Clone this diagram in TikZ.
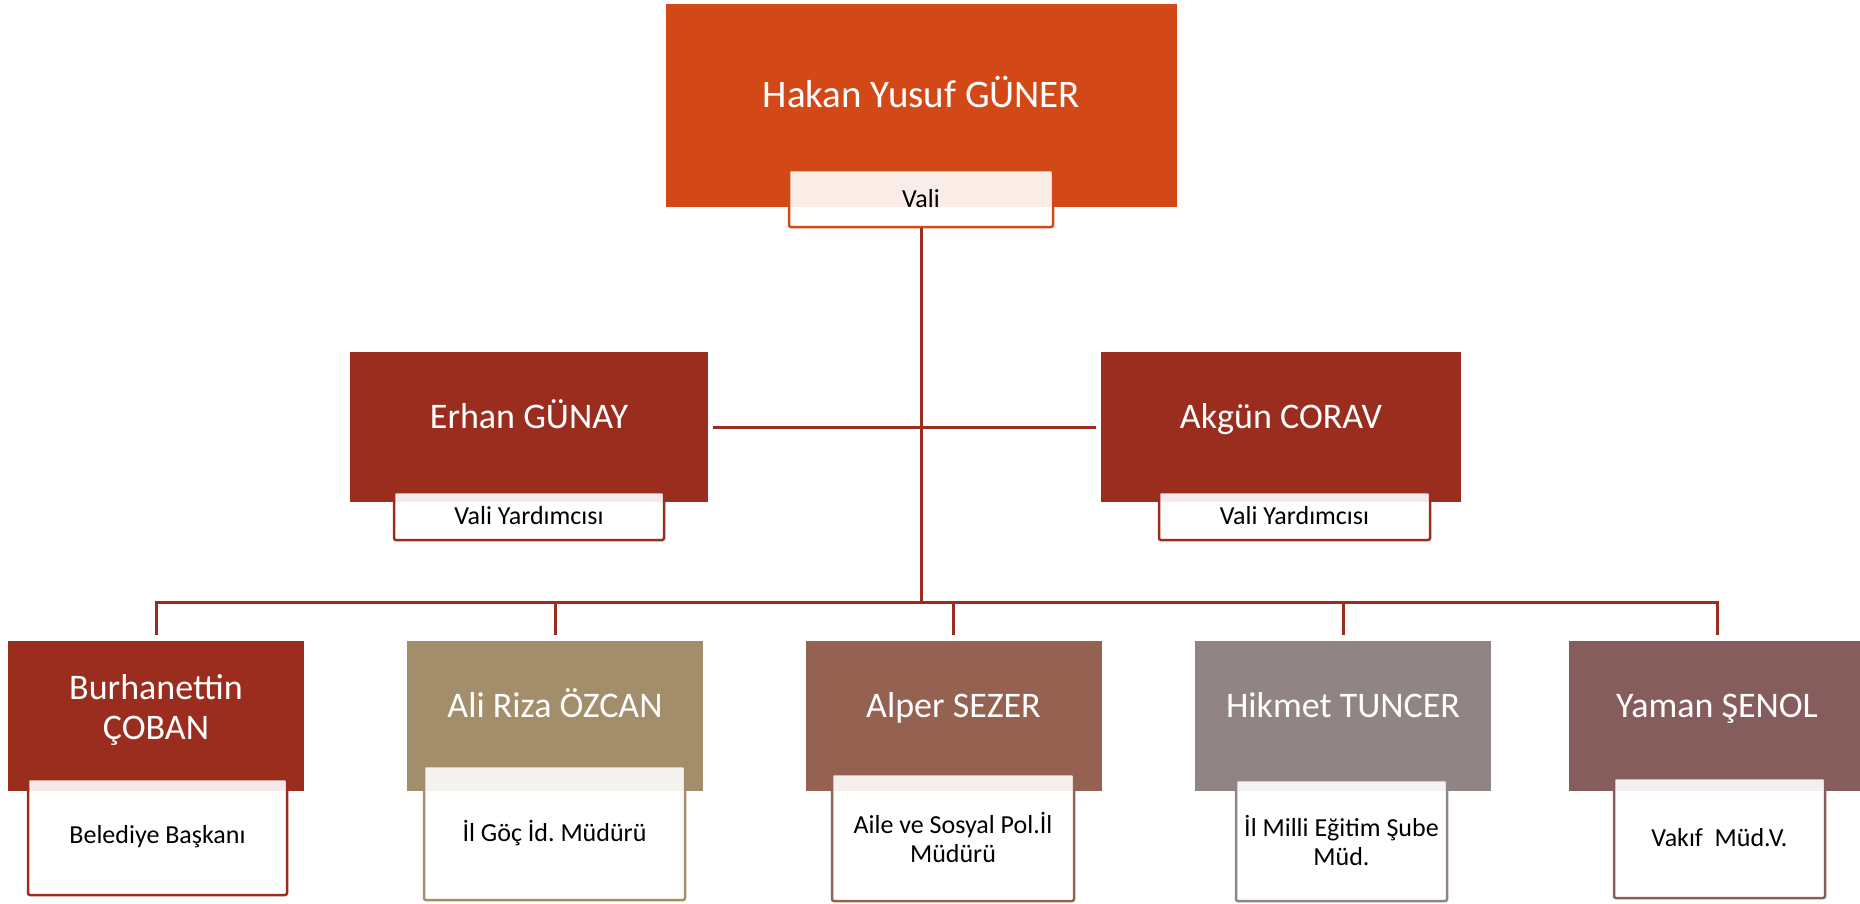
\documentclass[tikz,border=0pt]{standalone}
\usepackage{fontspec}
\setmainfont{Carlito}
\usepackage{tikz}
\usetikzlibrary{positioning}
\definecolor{topred}{HTML}{D34817}
\definecolor{darkred}{HTML}{9B2D1F}
\definecolor{khaki}{HTML}{A28E6A}
\definecolor{rust}{HTML}{956251}
\definecolor{mauve}{HTML}{918485}
\definecolor{plum}{HTML}{855D5D}
\newcommand{\NameSize}{\fontsize{36}{40}\selectfont}
\newcommand{\TitleSize}{\fontsize{26}{29}\selectfont}
\frenchspacing

\begin{document}
\begin{tikzpicture}[
	x=1pt,
	y=-1pt,
	person/.style={
		rectangle,
		fill=#1,
		text=white,
		minimum width=296pt,
		minimum height=150pt,
		inner sep=0pt,
		font=\NameSize,
		text height=25pt,
		text depth=22pt
	},
	titlebox/.style={
		rectangle,
		draw=#1,
		line width=2.5pt,
		rounded corners=2pt,
		fill=white,
		fill opacity=0.9,
		text opacity=1,
		text=black,
		align=center,
		inner sep=0pt,
		font=\TitleSize
	},
	orglink/.style={draw=darkred, line width=3pt}
	]
	\useasboundingbox (0,0) rectangle (1860,903);
	% Governor
	\node[person=topred, minimum width=511pt, minimum height=203pt, font=\fontsize{39}{44}\selectfont] (guner) at (921.5,105.5) {Hakan Yusuf GÜNER};
	\node[titlebox=topred, minimum width=264pt, minimum height=57pt] (guner_title) at (921,198.5) {Vali};
	% Deputy governors
	\node[person=darkred, minimum width=358pt] (gunay) at (529,427) {Erhan GÜNAY};
	\node[titlebox=darkred, minimum width=270pt, minimum height=48pt] (gunay_title) at (529,516) {Vali Yardımcısı};
	\node[person=darkred, minimum width=360pt] (corav) at (1281,427) {Akgün CORAV};
	\node[titlebox=darkred, minimum width=271pt, minimum height=48pt] (corav_title) at (1294.5,516) {Vali Yardımcısı};
	% Directors
	\node[person=darkred] (coban) at (156,716) {\begin{tabular}{@{}c@{}}Burhanettin\\ÇOBAN\end{tabular}};
	\node[titlebox=darkred, minimum width=259pt, minimum height=116pt] (coban_title) at (157.5,837) {Belediye Başkanı};
	\node[person=khaki] (ozcan) at (555,716) {Ali Riza ÖZCAN};
	\node[titlebox=khaki, minimum width=261pt, minimum height=134pt] (ozcan_title) at (554.5,833) {İl Göç İd. Müdürü};
	\node[person=rust] (sezer) at (953.5,716) {Alper SEZER};
	\node[titlebox=rust, minimum width=242pt, minimum height=127pt] (sezer_title) at (953,837.5) {Aile ve Sosyal Pol.İl\\Müdürü};
	\node[person=mauve] (tuncer) at (1343,716) {Hikmet TUNCER};
	\node[titlebox=mauve, minimum width=211pt, minimum height=121pt] (tuncer_title) at (1341.5,840.5) {İl Milli Eğitim Şube\\Müd.};
	\node[person=plum] (senol) at (1717,716) {Yaman ŞENOL};
	\node[titlebox=plum, minimum width=211pt, minimum height=120pt] (senol_title) at (1719.5,838) {Vakıf\ \ Müd.V.};
	% Connectors
	\coordinate (bus) at (921,602);
	\draw[orglink] (guner_title.south) -- (bus);
	\draw[orglink, shorten <=5pt, shorten >=5pt] (gunay.east) -- (corav.west);
	\draw[orglink, shorten <=6pt, shorten >=6pt] (coban.north) -- (coban.north |- bus) -- (senol.north |- bus) -- (senol.north);
	\foreach \n in {ozcan, sezer, tuncer}
		\draw[orglink, shorten >=6pt] (\n.north |- bus) -- (\n.north);
\end{tikzpicture}
\end{document}
